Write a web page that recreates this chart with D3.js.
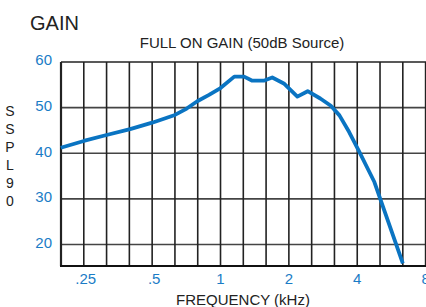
<!DOCTYPE html>
<html>
<head>
<meta charset="utf-8">
<script src="https://cdn.jsdelivr.net/npm/d3@7"></script>
<style>
  body { margin: 0; background: #fff; }
  svg { display: block; font-family: "Liberation Sans", Arial, sans-serif; }
</style>
</head>
<body>
<svg id="chart" width="426" height="307"></svg>
<script>
// values
const freq = [0.198, 0.25, 0.315, 0.4, 0.5, 0.63, 0.71, 0.79, 0.89, 1.0, 1.15, 1.27, 1.38, 1.55, 1.69, 1.9, 2.18, 2.42, 2.75, 3.06, 3.34, 3.69, 4.05, 4.76, 6.35];
const spl = [41.2, 42.7, 44.0, 45.3, 46.7, 48.4, 49.8, 51.4, 52.8, 54.3, 56.8, 56.8, 55.9, 55.9, 56.6, 55.3, 52.4, 53.6, 52.0, 50.4, 48.3, 44.6, 40.7, 33.7, 15.9];
const xTicks = [0.25, 0.5, 1, 2, 4, 8];
const xTickLabels = ['.25', '.5', '1', '2', '4', '8'];
const yTicks = [20, 30, 40, 50, 60];
const yLabel = ['S', 'S', 'P', 'L', '9', '0'];

const svg = d3.select('#chart');
const plot = {left: 61, top: 62, bottom: 266, right: 425.6};

const x = d3.scaleLog().domain([0.25 / Math.cbrt(2), 8]).range([plot.left, plot.right]);
const y = d3.scaleLinear().domain([15.3, 60]).range([plot.bottom, plot.top]);

// third-octave grid lines
const grid = d3.range(0, 17).map(i => 0.25 / Math.cbrt(2) * Math.pow(2, i / 3));

svg.append('g').selectAll('line')
  .data(yTicks)
  .enter().append('line')
  .attr('x1', plot.left).attr('x2', 426)
  .attr('y1', d => y(d)).attr('y2', d => y(d))
  .attr('stroke', d => d === 60 ? '#222' : '#444')
  .attr('stroke-width', 1.6);

svg.append('g').selectAll('line')
  .data(grid)
  .enter().append('line')
  .attr('x1', d => x(d)).attr('x2', d => x(d))
  .attr('y1', plot.top).attr('y2', plot.bottom)
  .attr('stroke', '#222')
  .attr('stroke-width', (d, i) => i === 0 ? 2.2 : 1.6);

// bottom frame
svg.append('line')
  .attr('x1', plot.left - 1).attr('x2', 426)
  .attr('y1', plot.bottom).attr('y2', plot.bottom)
  .attr('stroke', '#111').attr('stroke-width', 2.2);

// curve
const line = d3.line()
  .x((d, i) => x(freq[i]))
  .y(d => y(d));

svg.append('path')
  .datum(spl)
  .attr('d', line)
  .attr('fill', 'none')
  .attr('stroke', '#0a74c2')
  .attr('stroke-width', 3.8)
  .attr('stroke-linejoin', 'round');

// tick labels
svg.append('g').selectAll('text')
  .data(yTicks)
  .enter().append('text')
  .attr('x', 52)
  .attr('y', d => y(d) - 2)
  .attr('dy', '0.35em')
  .attr('text-anchor', 'end')
  .attr('fill', '#1a7cc6')
  .style('font-size', '15px')
  .text(d => d);

svg.append('g').selectAll('text')
  .data(xTicks)
  .enter().append('text')
  .attr('x', d => x(d))
  .attr('dx', (d, i) => xTickLabels[i][0] === '.' ? 2 : 0)
  .attr('y', 284)
  .attr('text-anchor', 'middle')
  .attr('fill', '#1a7cc6')
  .style('font-size', '15px')
  .text((d, i) => xTickLabels[i]);

// titles
svg.append('text')
  .attr('x', 30).attr('y', 30)
  .attr('fill', '#222')
  .style('font-size', '20px')
  .text('GAIN');

svg.append('text')
  .attr('x', 242).attr('y', 48)
  .attr('text-anchor', 'middle')
  .attr('fill', '#222')
  .style('font-size', '15px')
  .text('FULL ON GAIN (50dB Source)');

svg.append('text')
  .attr('x', 243).attr('y', 305)
  .attr('text-anchor', 'middle')
  .attr('fill', '#222')
  .style('font-size', '15px')
  .text('FREQUENCY (kHz)');

// stacked y label
const letterY = [111, 129, 147, 165, 183, 201];
svg.append('g').selectAll('text')
  .data(yLabel)
  .enter().append('text')
  .attr('x', 10)
  .attr('y', (d, i) => letterY[i])
  .attr('dy', '0.35em')
  .attr('text-anchor', 'middle')
  .attr('fill', '#222')
  .style('font-size', '14px')
  .text(d => d);
</script>
</body>
</html>
